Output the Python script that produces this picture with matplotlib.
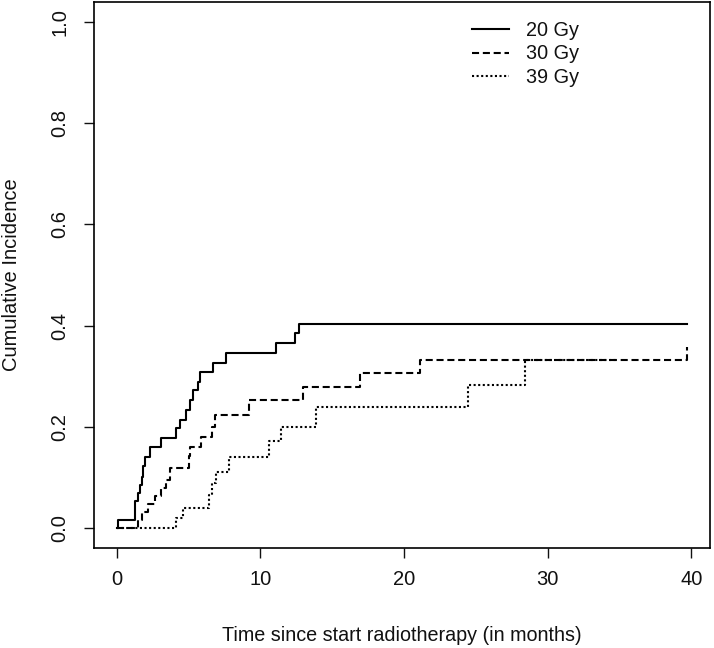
import matplotlib
matplotlib.use("Agg")
import matplotlib.pyplot as plt

plt.rcParams['font.family'] = ['Liberation Sans', 'DejaVu Sans']

# Cumulative incidence step data (time in months)
t20 = [0, 0.1, 1.30, 1.44, 1.60, 1.74, 1.85, 1.99, 2.29, 3.10, 4.14, 4.40, 4.80,
       5.10, 5.30, 5.62, 5.80, 6.69, 7.57, 11.09, 12.40, 12.66, 39.7]
ci20 = [0, 0.016, 0.052, 0.068, 0.085, 0.101, 0.123, 0.140, 0.159, 0.177, 0.197, 0.213,
        0.233, 0.253, 0.272, 0.289, 0.309, 0.325, 0.346, 0.365, 0.385, 0.403, 0.403]

t30 = [0, 1.45, 1.75, 2.20, 2.65, 3.10, 3.40, 3.70, 5.05, 5.12, 5.85, 6.65, 6.82,
       9.18, 12.96, 16.90, 21.08, 39.7]
ci30 = [0, 0.016, 0.032, 0.047, 0.063, 0.079, 0.095, 0.118, 0.141, 0.160, 0.180, 0.200,
        0.223, 0.252, 0.278, 0.306, 0.332, 0.358]

t39 = [0, 4.15, 4.63, 6.42, 6.62, 6.93, 7.84, 10.60, 11.46, 13.84, 24.44, 28.40, 34.8]
ci39 = [0, 0.019, 0.039, 0.064, 0.088, 0.111, 0.140, 0.171, 0.200, 0.239, 0.283, 0.332, 0.332]

labels = ["20 Gy", "30 Gy", "39 Gy"]
xticks = [0, 10, 20, 30, 40]
yticks = [0.0, 0.2, 0.4, 0.6, 0.8, 1.0]
ytick_labels = ["0.0", "0.2", "0.4", "0.6", "0.8", "1.0"]

W, H = 714, 648
fig = plt.figure(figsize=(W / 100, H / 100), dpi=100)
ax = fig.add_axes([94 / W, 1 - 548 / H, 616 / W, 546 / H])

lw = 1.5
ax.step(t20, ci20, where='post', color='black', lw=lw, linestyle='-', label=labels[0])
ax.step(t30, ci30, where='post', color='black', lw=lw, linestyle=(0, (3.4, 1.8)), label=labels[1])
ax.step(t39, ci39, where='post', color='black', lw=lw, linestyle=(0, (1.0, 1.2)), label=labels[2])

ax.set_xlim(-1.588, 41.29)
ax.set_ylim(-0.04, 1.04)

ax.set_xticks(xticks)
ax.set_xticklabels([str(v) for v in xticks])
ax.set_yticks(yticks)
ax.set_yticklabels(ytick_labels, rotation=90, va='center')

fs = 14.5
ax.tick_params(axis='both', direction='out', length=7.5, width=1.0, labelsize=fs,
               colors='#111111')
ax.tick_params(axis='x', pad=8)
ax.tick_params(axis='y', pad=10)
for s in ax.spines.values():
    s.set_linewidth(1.2)

ax.set_xlabel("Time since start radiotherapy (in months)", fontsize=14.2, labelpad=27,
              color='#111111')
ax.set_ylabel("Cumulative Incidence", fontsize=fs, color='#111111')
ax.yaxis.set_label_coords(-0.118, 0.5)

leg = ax.legend(loc='upper left', bbox_to_anchor=(0.614, 0.965), frameon=False,
                fontsize=14.3, handlelength=1.85, handletextpad=0.85, labelspacing=0.22,
                borderpad=0, borderaxespad=0)
for txt in leg.get_texts():
    txt.set_color('#111111')

fig.savefig("out.png", dpi=100)
